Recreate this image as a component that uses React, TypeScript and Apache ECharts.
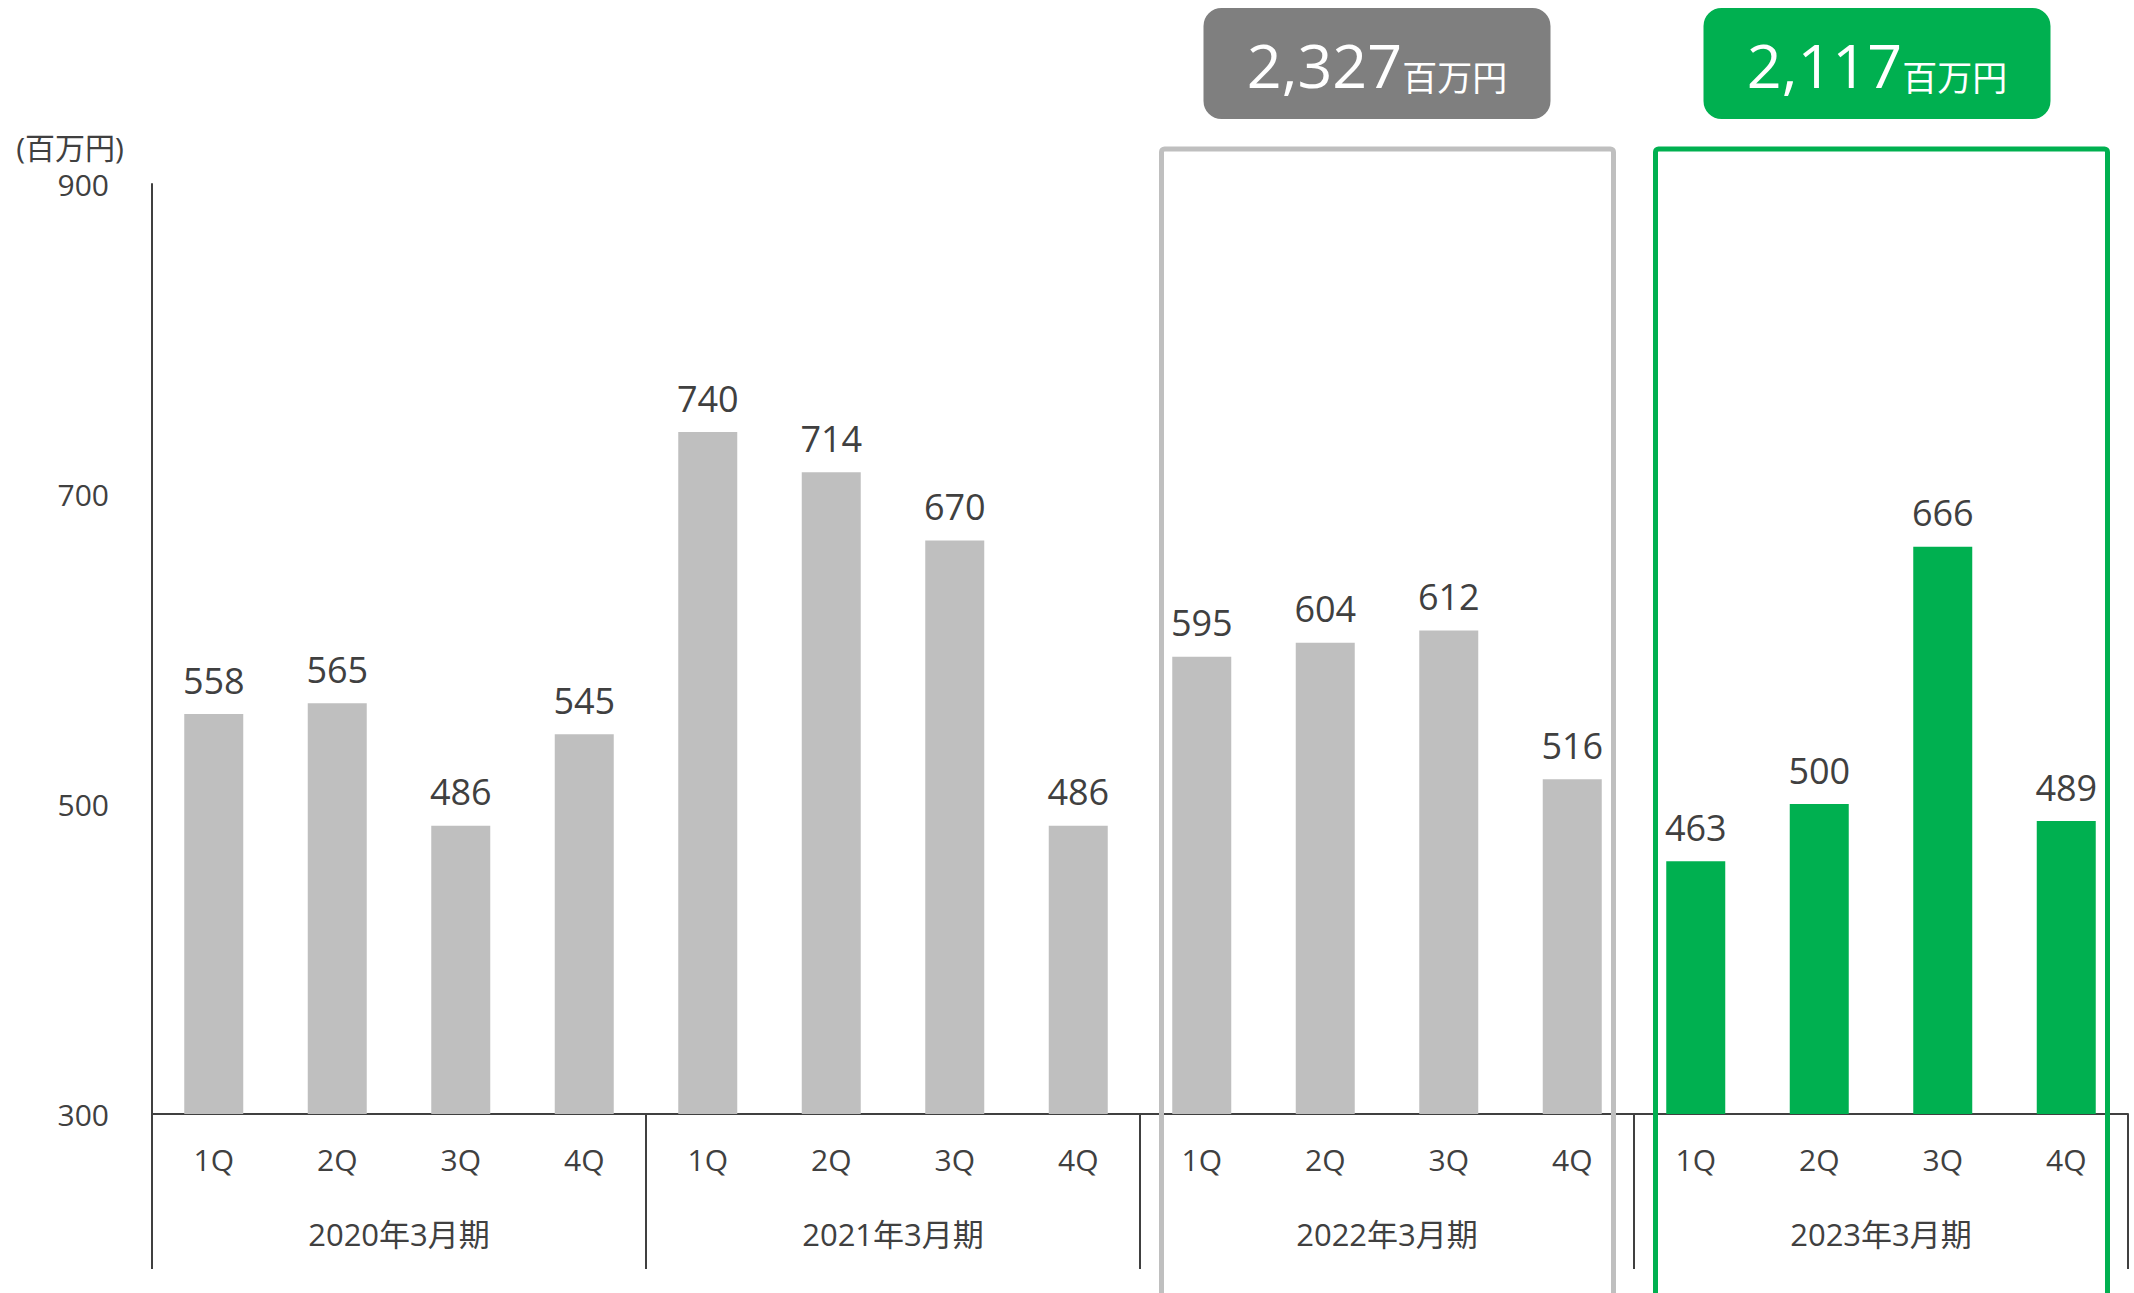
import React, { useEffect, useRef } from "react";
import * as echarts from "echarts";

const quarters = ["1Q", "2Q", "3Q", "4Q", "1Q", "2Q", "3Q", "4Q", "1Q", "2Q", "3Q", "4Q", "1Q", "2Q", "3Q", "4Q"];
const fiscalYears = ["2020年3月期", "2021年3月期", "2022年3月期", "2023年3月期"];
const sales = [558, 565, 486, 545, 740, 714, 670, 486, 595, 604, 612, 516, 463, 500, 666, 489];
const yMin = 300;
const yMax = 900;
const yInterval = 200;
const unitLabel = "(百万円)";
const totalYears = [2, 3];
const totalValues = ["2,327", "2,117"];
const totalUnit = "百万円";

const GRAY = "#BFBFBF";
const GREEN = "#00B050";
const BADGE_GRAY = "#7F7F7F";
const TEXT = "#404040";
const FONT = "'Open Sans', 'Noto Sans CJK JP', sans-serif";
const BADGE_SHIFT = [-10, -4];

export default function App() {
  const ref = useRef<HTMLDivElement>(null);
  useEffect(() => {
    if (!ref.current) return;
    const chart = echarts.init(ref.current, undefined, { renderer: "svg" });
    const option: any = {
      animation: false,
      backgroundColor: "#ffffff",
      textStyle: { fontFamily: FONT },
      grid: { left: 152, right: 6, top: 184, bottom: 179, containLabel: false },
      xAxis: [
        {
          type: "category",
          data: quarters,
          axisLine: { show: true, lineStyle: { color: TEXT, width: 2 } },
          axisTick: { show: false },
          axisLabel: { fontSize: 30, color: TEXT, margin: 30, fontFamily: FONT },
        },
        {
          type: "category",
          data: fiscalYears,
          position: "bottom",
          axisLine: { show: false },
          axisTick: { show: true, length: 155, lineStyle: { color: TEXT, width: 2 } },
          axisLabel: { fontSize: 31, color: TEXT, margin: 104, fontFamily: FONT },
        },
      ],
      yAxis: {
        type: "value",
        min: yMin,
        max: yMax,
        interval: yInterval,
        axisLine: { show: true, lineStyle: { color: TEXT, width: 2 } },
        axisTick: { show: false },
        splitLine: { show: false },
        axisLabel: { fontSize: 30, color: TEXT, margin: 43, fontFamily: FONT },
      },
      series: [
        {
          type: "bar",
          xAxisIndex: 0,
          data: sales,
          barWidth: 59,
          itemStyle: {
            color: (p: any) => (Math.floor(p.dataIndex / 4) === fiscalYears.length - 1 ? GREEN : GRAY),
          },
          label: {
            show: true,
            position: "top",
            distance: 16,
            fontSize: 36,
            color: TEXT,
            fontFamily: FONT,
          },
        },
      ],
    };
    chart.setOption(option);

    const p0 = chart.convertToPixel({ xAxisIndex: 0 }, 0) as number;
    const p1 = chart.convertToPixel({ xAxisIndex: 0 }, 1) as number;
    const step = p1 - p0;
    const boxTop = 149;
    const H = 1293;
    const elements: any[] = [
      {
        type: "text",
        style: {
          x: 70,
          y: 147,
          text: unitLabel,
          fontSize: 30,
          fontFamily: FONT,
          fill: TEXT,
          align: "center",
          verticalAlign: "middle",
          textAlign: "center",
          textVerticalAlign: "middle",
        },
      },
    ];
    totalYears.forEach((yi, k) => {
      const first = chart.convertToPixel({ xAxisIndex: 0 }, yi * 4) as number;
      const last = chart.convertToPixel({ xAxisIndex: 0 }, yi * 4 + 3) as number;
      const left = first - step / 2;
      const right = last + step / 2;
      const isLast = yi === fiscalYears.length - 1;
      const stroke = isLast ? GREEN : GRAY;
      const badge = isLast ? GREEN : BADGE_GRAY;
      const bx0 = left + 21.5;
      const bx1 = right - 20.5;
      const cx = (left + right) / 2 + BADGE_SHIFT[k];
      elements.push({
        type: "rect",
        z: 10,
        shape: { x: bx0, y: boxTop, width: bx1 - bx0, height: H - boxTop + 20, r: 3 },
        style: { fill: "none", stroke, lineWidth: 5 },
      });
      elements.push({
        type: "rect",
        z: 10,
        shape: { x: cx - 173.5, y: 8, width: 347, height: 111, r: 18 },
        style: { fill: badge },
      });
      elements.push({
        type: "text",
        z: 11,
        style: {
          x: cx,
          y: 63,
          text: "{a|" + totalValues[k] + "}{b|" + totalUnit + "}",
          fill: "#ffffff",
          align: "center",
          verticalAlign: "middle",
          textAlign: "center",
          textVerticalAlign: "middle",
          rich: {
            a: { fontSize: 61, fontFamily: FONT, fill: "#ffffff", lineHeight: 64, verticalAlign: "bottom" },
            b: { fontSize: 35, fontFamily: FONT, fill: "#ffffff", lineHeight: 56, verticalAlign: "bottom" },
          },
        },
      });
    });
    chart.setOption({ graphic: { elements } });

    return () => chart.dispose();
  }, []);
  return (
    <div
      ref={ref}
      style={{ position: "absolute", left: 0, top: 0, width: 2134, height: 1293, background: "#fff" }}
    />
  );
}
